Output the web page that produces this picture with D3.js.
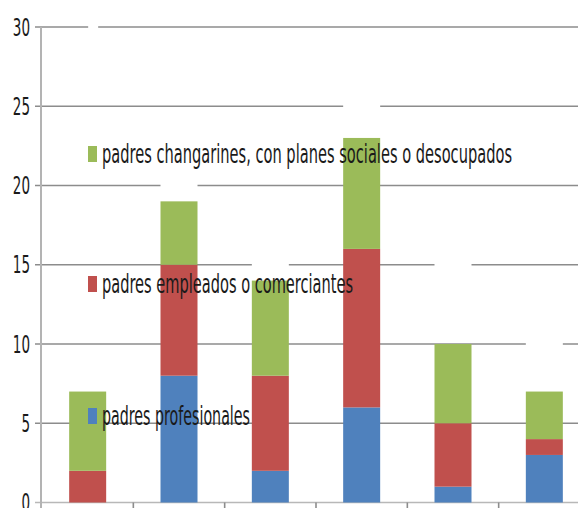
<!DOCTYPE html>
<html lang="es">
<head>
<meta charset="UTF-8">
<script src="https://d3js.org/d3.v7.min.js"></script>
<style>
  body { margin: 0; background: #fff; }
  svg { display: block; }
  .tick-label, .legend { font-family: "DejaVu Sans Condensed", "DejaVu Sans", sans-serif; fill: #1a1a1a; }
</style>
</head>
<body>
<svg id="chart" width="578" height="508"></svg>
<script>
// data
const grupos = ["1", "2", "3", "4", "5", "6"];
const profesionales = [0, 8, 2, 6, 1, 3];
const empleados = [2, 7, 6, 10, 4, 1];
const changarines = [5, 4, 6, 7, 5, 3];
const yTicks = [0, 5, 10, 15, 20, 25, 30];
// gridline value left broken (white) above each bar
const huecos = [30, 20, 15, 25, 15, 10];

const series = [
  { key: "prof", name: "padres profesionales", values: profesionales, color: "#4f81bd" },
  { key: "emp", name: "padres empleados o comerciantes", values: empleados, color: "#c0504d" },
  { key: "chan", name: "padres changarines, con planes sociales o desocupados", values: changarines, color: "#9bbb59" }
];

const svg = d3.select("#chart");
const x = d3.scaleBand().domain(grupos).range([42, 590]).padding(0);
const y = d3.scaleLinear().domain([0, 30]).range([502.5, 27]);
const barW = 37;
const barX = g => x(g) + (x.bandwidth() - barW) / 2;

// gridlines + y ticks
svg.append("g").selectAll("line").data(yTicks).join("line")
  .attr("x1", 35).attr("x2", 578)
  .attr("y1", d => y(d)).attr("y2", d => y(d))
  .attr("stroke", d => d === 0 ? "#b8b8b8" : "#8c8c8c")
  .attr("stroke-width", 1.6);

svg.append("g").selectAll("text").data(yTicks).join("text")
  .attr("class", "tick-label")
  .attr("x", 30).attr("y", d => y(d) + 8.5)
  .attr("text-anchor", "end")
  .attr("font-size", 25)
  .attr("textLength", d => String(d).length * 8.6)
  .attr("lengthAdjust", "spacingAndGlyphs")
  .text(d => d);

// y axis line
svg.append("line")
  .attr("x1", 41).attr("x2", 41).attr("y1", y(30)).attr("y2", 508)
  .attr("stroke", "#b3b3b3").attr("stroke-width", 2);

// category ticks on x axis
svg.append("g").selectAll("line").data(grupos.slice(1)).join("line")
  .attr("x1", d => x(d)).attr("x2", d => x(d))
  .attr("y1", y(0)).attr("y2", 508)
  .attr("stroke", "#8c8c8c").attr("stroke-width", 1.6);

// white breaks in the gridlines above bars (the first one is narrower)
svg.append("g").selectAll("rect").data(grupos).join("rect")
  .attr("x", (g, i) => i === 0 ? barX(g) + 19 : barX(g))
  .attr("width", (g, i) => i === 0 ? 10 : barW)
  .attr("y", (g, i) => y(huecos[i]) - 4).attr("height", 8)
  .attr("fill", "#fff");

// stacked bars
const tabla = grupos.map((g, i) => ({ grupo: g, prof: profesionales[i], emp: empleados[i], chan: changarines[i] }));
const stack = d3.stack().keys(series.map(s => s.key))(tabla);

svg.append("g").selectAll("g").data(stack).join("g")
  .attr("fill", (d, i) => series[i].color)
  .selectAll("rect").data(d => d).join("rect")
  .attr("x", d => barX(d.data.grupo))
  .attr("width", barW)
  .attr("y", d => y(d[1]))
  .attr("height", d => y(d[0]) - y(d[1]));

// legend drawn inside the plot
const legendPos = [
  { baseline: 425, len: 148 },
  { baseline: 293, len: 251 },
  { baseline: 163, len: 410 }
];
const leg = svg.append("g");
series.forEach((s, i) => {
  const p = legendPos[i];
  leg.append("rect")
    .attr("x", 88).attr("y", p.baseline - 17)
    .attr("width", 9).attr("height", 16)
    .attr("fill", s.color);
  leg.append("text")
    .attr("class", "legend")
    .attr("x", 102).attr("y", p.baseline)
    .attr("font-size", 27)
    .attr("textLength", p.len)
    .attr("lengthAdjust", "spacingAndGlyphs")
    .text(s.name);
});
</script>
</body>
</html>
